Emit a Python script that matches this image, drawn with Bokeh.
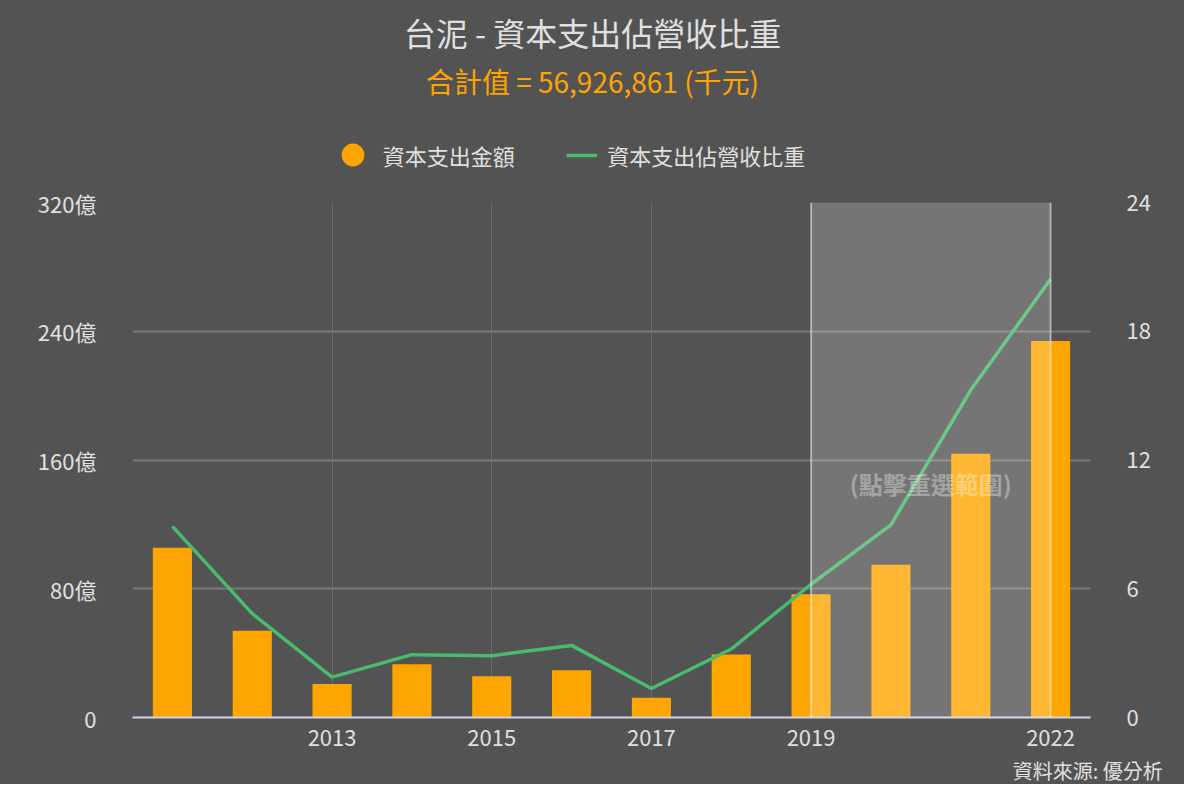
from bokeh.plotting import figure
from bokeh.layouts import column
from bokeh.models import (Range1d, LinearAxis, FixedTicker, Label, Legend, LegendItem,
                          BoxAnnotation, Span, ColumnDataSource)
from bokeh.embed import file_html
from bokeh.resources import INLINE

# ---- data ----
years = [2011, 2012, 2013, 2014, 2015, 2016, 2017, 2018, 2019, 2020, 2021, 2022]
capex_yi = [105.4, 53.9, 20.8, 33.1, 25.7, 29.4, 12.3, 39.2, 76.6, 94.9, 163.9, 233.9]   # 億
capex_ratio = [8.91, 4.84, 1.88, 2.93, 2.88, 3.36, 1.35, 3.19, 6.21, 8.98, 15.26, 20.43]  # %
x_ticks = [2013, 2015, 2017, 2019, 2022]
left_ticks = [0, 80, 160, 240, 320]
left_labels = ["0", "80億", "160億", "240億", "320億"]
right_ticks = [0, 6, 12, 18, 24]
sel_start, sel_end = 2019, 2022

title_text = "台泥 - 資本支出佔營收比重"
subtitle_text = "合計值 = 56,926,861 (千元)"
legend_bar = "資本支出金額"
legend_line = "資本支出佔營收比重"
hint_text = "(點擊重選範圍)"
source_text = "資料來源: 優分析"

# ---- style / layout ----
BG = "#535353"
TXT = "#e0e0e0"
ORANGE = "#FFA500"
GREEN = "#48BB6C"
FONT = "Noto Sans CJK TC"

W, H = 1184, 784
S = W / 1200.0                      # design coordinates refer to a 1200x800 canvas
HEAD_H = 170
FL, FR, FT, FB = 134 * S, 1105 * S, 205 * S, 727 * S
BOT = 38                            # room for the x-axis labels
MAIN_H = round(FB + BOT) - HEAD_H
FOOT_H = H - HEAD_H - MAIN_H
XMIN, XMAX, YMAX = 2010.5, 2022.5, 320


def blank(height):
    f = figure(width=W, height=height, output_backend="svg", toolbar_location=None,
               x_range=Range1d(0, W), y_range=Range1d(0, height),
               x_axis_location=None, y_axis_location=None, min_border=0,
               background_fill_color=BG, border_fill_color=BG, outline_line_color=None)
    f.grid.visible = False
    f.frame_align = False
    return f

# ---------------- header (title, subtitle, legend) ----------------
hd = blank(HEAD_H)

def hy(ref_y):
    return HEAD_H - ref_y * S

hd.add_layout(Label(x=600 * S, y=hy(32), text=title_text, text_align="center", text_baseline="middle",
                    text_font=FONT, text_font_size="32px", text_color=TXT))
hd.add_layout(Label(x=600 * S, y=hy(82), text=subtitle_text, text_align="center", text_baseline="middle",
                    text_font=FONT, text_font_size="28px", text_color=ORANGE))

dummy_c = hd.scatter(x=[float("nan")], y=[float("nan")], marker="circle", size=1,
                     fill_color=ORANGE, line_color=None)
dummy_l = hd.line(x=[float("nan"), float("nan")], y=[float("nan"), float("nan")],
                  line_color=GREEN, line_width=3.5)

LEG_Y = hy(157)
G1 = 57
leg1 = Legend(items=[LegendItem(label=legend_bar, renderers=[dummy_c])],
              location=(357 * S - G1 / 2, LEG_Y - G1 / 2), orientation="horizontal",
              glyph_width=G1, glyph_height=G1, label_standoff=2, padding=0, margin=0,
              border_line_color=None, background_fill_alpha=0,
              label_text_font=FONT, label_text_font_size="22px", label_text_color=TXT)
G2H = 34
leg2 = Legend(items=[LegendItem(label=legend_line, renderers=[dummy_l])],
              location=(574 * S, LEG_Y - G2H / 2), orientation="horizontal",
              glyph_width=31, glyph_height=G2H, label_height=G2H, label_standoff=10, padding=0, margin=0,
              border_line_color=None, background_fill_alpha=0,
              label_text_font=FONT, label_text_font_size="22px", label_text_color=TXT)
hd.add_layout(leg1)
hd.add_layout(leg2)

# ---------------- main chart ----------------
p = figure(width=W, height=MAIN_H, output_backend="svg", toolbar_location=None,
           x_range=Range1d(XMIN, XMAX), y_range=Range1d(0, YMAX),
           min_border_left=round(FL), min_border_right=round(W - FR),
           min_border_top=round(FT - HEAD_H), min_border_bottom=BOT,
           background_fill_color=BG, border_fill_color=BG, outline_line_color=None)
p.frame_align = False
p.extra_y_ranges = {"pct": Range1d(0, 24)}

p.xaxis.ticker = FixedTicker(ticks=x_ticks)
p.xaxis.axis_line_color = "#ccd6eb"
p.xaxis.axis_line_width = 2
p.xaxis.major_tick_line_color = None
p.xaxis.minor_tick_line_color = None
p.xaxis.major_label_standoff = 6
p.xaxis.major_label_text_font = FONT
p.xaxis.major_label_text_font_size = "22px"
p.xaxis.major_label_text_color = TXT

p.yaxis.ticker = FixedTicker(ticks=left_ticks)
p.yaxis.major_label_overrides = {t: l for t, l in zip(left_ticks, left_labels)}
p.yaxis.axis_line_color = None
p.yaxis.major_tick_line_color = None
p.yaxis.minor_tick_line_color = None
p.yaxis.major_label_standoff = 30
p.yaxis.major_label_text_font = FONT
p.yaxis.major_label_text_font_size = "22px"
p.yaxis.major_label_text_color = TXT

ra = LinearAxis(y_range_name="pct", ticker=FixedTicker(ticks=right_ticks),
                axis_line_color=None, major_tick_line_color=None, minor_tick_line_color=None,
                major_label_standoff=30, major_label_text_font=FONT,
                major_label_text_font_size="22px", major_label_text_color=TXT)
p.add_layout(ra, "right")

p.xgrid.ticker = FixedTicker(ticks=x_ticks)
p.xgrid.grid_line_color = "#6c6c6c"
p.xgrid.grid_line_width = 1
p.ygrid.ticker = FixedTicker(ticks=left_ticks[1:])
p.ygrid.grid_line_color = "#7a7a7a"
p.ygrid.grid_line_width = 2

src = ColumnDataSource(dict(x=years, capex=capex_yi, ratio=capex_ratio))
p.vbar(x="x", top="capex", width=0.49, source=src, fill_color=ORANGE, line_color=None)
p.line(x="x", y="ratio", source=src, y_range_name="pct", line_color=GREEN, line_width=3.5)

p.add_layout(BoxAnnotation(left=sel_start, right=sel_end, fill_color="white", fill_alpha=0.2,
                           line_color=None))
for xv in (sel_start, sel_end):
    p.add_layout(Span(location=xv, dimension="height", line_color="white", line_alpha=0.45,
                      line_width=2))

p.add_layout(Label(x=(sel_start + sel_end) / 2, y=(727 - 490) / (727 - 205) * YMAX, text=hint_text,
                   text_align="center", text_baseline="middle", text_font=FONT, text_font_size="24px",
                   text_font_style="bold", text_color="#ffffff", text_alpha=0.35))

# ---------------- footer (source) ----------------
ft = blank(FOOT_H)
ft.add_layout(Label(x=1178 * S, y=FOOT_H / 2, text=source_text, text_align="right",
                    text_baseline="middle", text_font=FONT, text_font_size="20px", text_color=TXT))

layout = column(hd, p, ft, spacing=0, styles={"background-color": BG})
open("out.html", "w").write(file_html(layout, INLINE))
